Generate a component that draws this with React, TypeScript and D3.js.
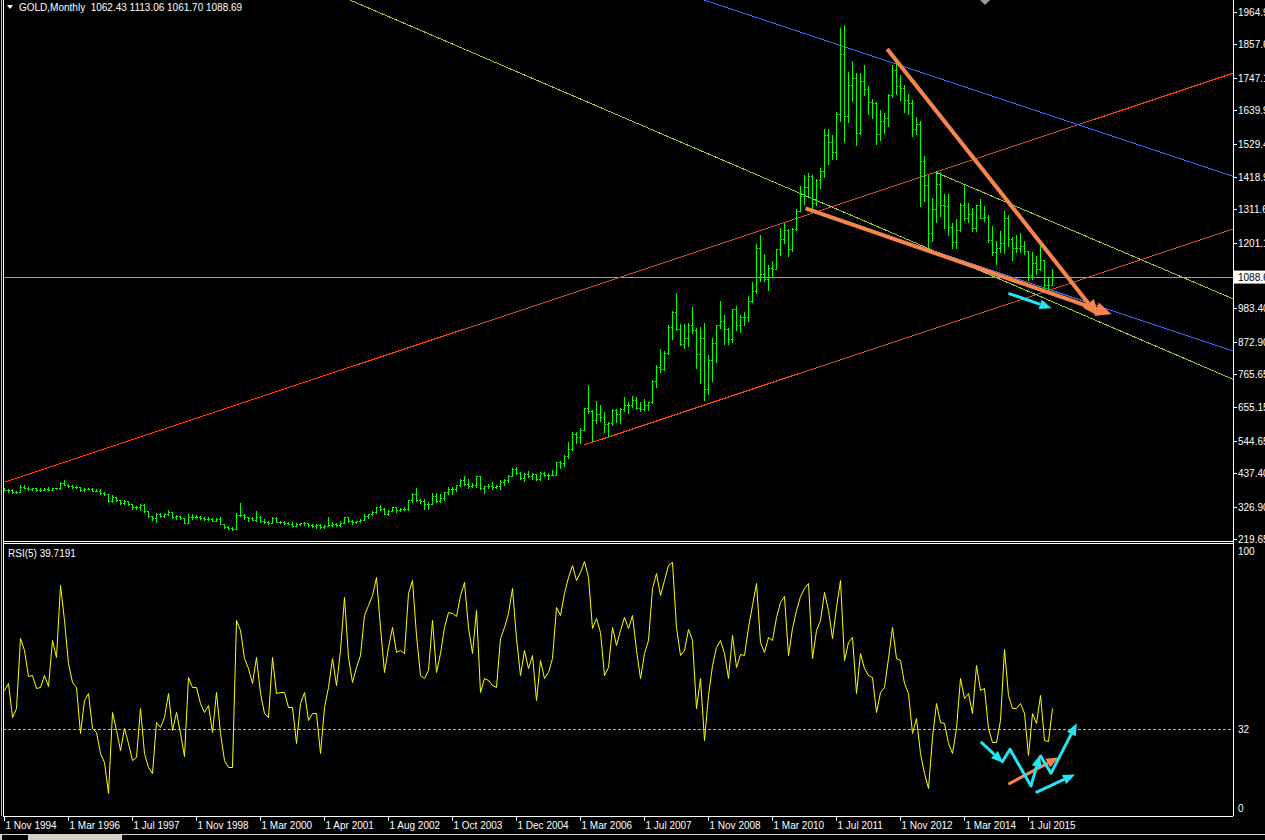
import React from 'react';
import * as d3 from 'd3';

// GOLD monthly, Nov 1994 .. Jan 2016 (broker feed, a few doubled months)
const ohlc: [number, number, number, number][] = [
  [383.5, 389, 381, 383.1], [383.1, 385, 374, 383.3],
  // 1995
  [383.3, 384, 371, 375], [375, 380, 372, 376], [376, 397, 375, 392], [392, 397, 388, 389],
  [389, 393, 382, 385], [385, 390, 382, 387], [387, 389, 380, 383], [383, 388, 380, 382],
  [382, 387, 381, 384], [384, 391, 381, 383], [383, 389, 381, 387], [387, 390, 384, 387],
  // 1996
  [387, 410, 386, 405], [405, 416, 398, 400], [400, 401, 393, 396], [396, 398, 390, 392],
  [392, 395, 389, 391], [391, 392, 380, 382], [382, 388, 380, 385], [385, 390, 384, 386],
  [386, 387, 378, 379], [379, 384, 378, 379], [379, 384, 370, 371], [371, 375, 366, 369],
  // 1997
  [369, 369, 343, 345], [345, 366, 341, 358], [358, 358, 347, 348], [348, 348, 337, 340],
  [340, 350, 337, 345], [345, 347, 333, 334], [334, 335, 318, 326], [326, 330, 320, 325],
  [325, 337, 317, 332], [332, 335, 308, 311], [311, 313, 292, 296], [296, 297, 284, 290],
  // 1998
  [290, 305, 277, 303], [303, 306, 292, 297], [297, 302, 292, 301], [301, 316, 299, 309],
  [309, 310, 290, 293], [293, 298, 287, 296], [296, 297, 286, 288], [288, 289, 271, 273],
  [273, 301, 272, 294], [294, 301, 287, 292], [292, 300, 289, 294], [294, 297, 285, 288],
  // 1999
  [288, 293, 283, 287], [287, 291, 282, 287], [287, 290, 278, 279], [279, 290, 278, 286],
  [286, 292, 268, 268], [268, 268, 257, 261], [261, 262, 252, 255], [255, 258, 251, 254],
  [254, 306, 254, 299], [299, 339, 296, 299], [299, 301, 287, 291], [291, 292, 279, 290],
  // 2000
  [290, 291, 281, 283], [283, 313, 278, 293], [293, 297, 276, 278], [278, 285, 274, 275],
  [275, 279, 269, 272], [272, 292, 272, 288], [288, 291, 275, 276], [276, 280, 271, 277],
  [277, 278, 270, 273], [273, 275, 268, 270], [270, 275, 263, 264], [264, 271, 263, 269],
  [269, 272, 266, 271], [271, 275, 267, 273],
  // 2001
  [273, 274, 262, 265], [265, 268, 261, 263], [263, 268, 255, 267], [267, 269, 256, 258],
  [258, 266, 255, 263], [263, 293, 263, 267], [267, 276, 264, 270], [270, 272, 263, 265],
  [265, 278, 264, 273], [273, 293, 271, 293], [293, 293, 276, 279], [279, 284, 270, 275],
  [275, 280, 271, 279],
  // 2002
  [279, 285, 277, 282], [282, 304, 281, 297], [297, 304, 288, 301], [301, 311, 298, 308],
  [308, 327, 307, 326], [326, 332, 315, 318], [318, 323, 302, 304], [304, 316, 300, 312],
  [312, 326, 311, 324], [324, 325, 310, 317], [317, 321, 313, 319], [319, 326, 315, 318],
  [318, 350, 317, 348],
  // 2003
  [348, 373, 343, 368], [368, 389, 344, 348], [348, 352, 340, 345], [345, 353, 320, 334],
  [334, 341, 320, 337], [337, 373, 336, 361], [361, 372, 342, 346], [346, 368, 342, 354],
  [354, 376, 350, 375], [375, 391, 369, 385], [385, 392, 370, 386], [386, 399, 378, 398],
  [398, 418, 396, 416],
  // 2004
  [416, 427, 398, 402], [402, 418, 390, 396], [396, 405, 392, 400], [400, 428, 392, 427],
  [427, 428, 384, 387], [387, 396, 371, 394], [394, 403, 387, 395], [395, 408, 384, 391],
  [391, 400, 388, 396], [396, 415, 386, 408], [408, 419, 399, 415], [415, 430, 410, 429],
  [429, 456, 428, 453], [453, 457, 434, 438],
  // 2005
  [438, 443, 418, 422], [422, 438, 411, 434], [434, 446, 424, 428], [428, 438, 420, 435],
  [435, 436, 414, 417], [417, 443, 414, 437], [437, 441, 428, 432], [432, 439, 418, 430],
  [430, 448, 430, 433], [433, 476, 433, 473], [473, 478, 456, 470], [470, 499, 460, 495],
  [495, 540, 489, 517],
  // 2006
  [517, 575, 516, 568], [568, 574, 538, 556], [556, 588, 536, 582], [582, 655, 580, 654],
  [654, 730, 637, 643], [643, 647, 543, 613], [613, 678, 605, 632], [632, 662, 610, 623],
  [623, 640, 574, 599], [599, 608, 560, 604], [604, 650, 597, 646], [646, 650, 606, 632],
  // 2007
  [632, 655, 603, 650], [650, 690, 645, 665], [665, 674, 637, 662], [662, 694, 658, 679],
  [679, 690, 650, 655], [655, 672, 642, 650], [650, 683, 648, 665], [665, 675, 648, 673],
  [673, 745, 670, 743], [743, 795, 723, 789], [789, 848, 774, 783], [783, 842, 778, 834],
  // 2008
  [834, 930, 832, 923], [923, 975, 883, 971], [971, 1033, 912, 916], [916, 933, 861, 864],
  [864, 933, 851, 885], [885, 936, 860, 930], [930, 988, 903, 912], [912, 918, 786, 833],
  [833, 922, 736, 884], [884, 935, 681, 718], [718, 828, 700, 814], [814, 885, 742, 869],
  // 2009
  [869, 927, 806, 927], [927, 1007, 917, 942], [942, 962, 866, 916], [916, 918, 865, 883],
  [883, 981, 871, 980], [980, 990, 913, 927], [927, 962, 905, 955], [955, 972, 930, 955],
  [955, 1025, 940, 1008], [1008, 1071, 1004, 1040], [1040, 1195, 1034, 1182], [1182, 1227, 1075, 1096],
  // 2010
  [1096, 1162, 1075, 1081], [1081, 1128, 1045, 1118], [1118, 1139, 1088, 1113], [1113, 1181, 1113, 1180],
  [1180, 1249, 1160, 1213], [1213, 1265, 1199, 1244], [1244, 1245, 1157, 1181], [1181, 1250, 1175, 1247],
  [1247, 1314, 1243, 1307], [1307, 1388, 1307, 1357], [1357, 1424, 1330, 1386], [1386, 1431, 1360, 1421],
  // 2011
  [1421, 1424, 1308, 1332], [1332, 1411, 1325, 1409], [1409, 1447, 1381, 1439], [1439, 1576, 1420, 1556],
  [1556, 1577, 1462, 1536], [1536, 1556, 1478, 1500], [1500, 1633, 1478, 1628], [1628, 1913, 1604, 1825],
  [1825, 1921, 1535, 1620], [1620, 1765, 1602, 1722], [1722, 1803, 1671, 1746], [1746, 1764, 1523, 1564],
  // 2012
  [1564, 1764, 1562, 1738], [1738, 1791, 1689, 1710], [1710, 1720, 1627, 1668], [1668, 1677, 1614, 1664],
  [1664, 1668, 1527, 1561], [1561, 1641, 1541, 1604], [1604, 1630, 1565, 1614], [1614, 1693, 1589, 1691],
  [1691, 1790, 1685, 1773], [1773, 1796, 1692, 1719], [1719, 1755, 1672, 1714], [1714, 1723, 1635, 1675],
  // 2013
  [1675, 1694, 1626, 1663], [1663, 1675, 1555, 1578], [1578, 1617, 1562, 1595], [1595, 1605, 1321, 1472],
  [1472, 1488, 1339, 1393], [1393, 1424, 1180, 1234], [1234, 1348, 1208, 1312], [1312, 1434, 1271, 1396],
  [1396, 1434, 1290, 1327], [1327, 1362, 1251, 1323], [1323, 1361, 1226, 1253], [1253, 1267, 1182, 1202],
  // 2014
  [1202, 1280, 1182, 1244], [1244, 1332, 1238, 1326], [1326, 1392, 1277, 1284], [1284, 1331, 1268, 1296],
  [1296, 1315, 1240, 1250], [1250, 1325, 1240, 1327], [1327, 1345, 1282, 1282], [1282, 1324, 1273, 1287],
  [1287, 1291, 1204, 1210], [1210, 1255, 1160, 1171], [1171, 1208, 1131, 1183], [1183, 1239, 1170, 1199],
  // 2015
  [1199, 1307, 1167, 1283], [1283, 1294, 1191, 1213], [1213, 1220, 1142, 1183], [1183, 1225, 1170, 1183],
  [1183, 1232, 1170, 1190], [1190, 1205, 1163, 1172], [1172, 1175, 1077, 1095], [1095, 1170, 1080, 1134],
  [1134, 1157, 1098, 1115], [1115, 1191, 1112, 1142], [1142, 1142, 1046, 1062], [1062, 1088, 1046, 1061],
  // 2016
  [1062.43, 1113.06, 1061.7, 1088.69],
];

// RSI(5), one value per bar
const rsi: number[] = [
  46.5, 48.9, 36.6, 39.7, 65.7, 61.3, 51.7, 52.0, 47.1, 47.7, 52.0, 48.0, 65.1, 58.9, 85.5, 72.5,
  56.4, 49.6, 47.7, 30.4, 42.8, 45.2, 32.2, 31.0, 22.9, 19.8, 8.1, 38.4, 31.6, 24.2, 32.2, 26.6,
  20.4, 21.7, 39.7, 22.9, 18.0, 15.5, 34.7, 32.8, 36.6, 45.2, 31.6, 38.4, 30.4, 21.9, 51.2, 47.7,
  47.5, 41.5, 38.4, 40.9, 31.0, 45.8, 30.4, 20.4, 18.0, 18.0, 72.5, 68.8, 58.2, 54.5, 48.9, 58.6,
  45.2, 37.8, 36.6, 58.9, 45.2, 45.8, 45.8, 40.3, 40.3, 26.6, 41.5, 45.8, 35.3, 37.8, 37.8, 22.9,
  40.3, 47.7, 58.2, 48.3, 61.3, 81.2, 58.9, 49.6, 55.1, 59.5, 74.3, 78.1, 81.8, 88.6, 70.0, 53.3,
  62.6, 70.0, 60.7, 61.3, 60.1, 82.4, 87.4, 66.9, 52.0, 50.8, 53.9, 72.5, 53.3, 60.1, 70.0, 75.6,
  75.0, 74.0, 81.8, 86.7, 70.0, 60.1, 76.2, 45.8, 50.8, 50.2, 48.3, 47.7, 65.7, 70.0, 75.0, 84.3,
  65.7, 52.0, 61.3, 54.5, 59.5, 42.8, 57.6, 50.8, 53.3, 58.2, 77.4, 74.3, 82.4, 88.6, 92.9, 87.4,
  90.5, 94.5, 88.6, 69.4, 73.1, 68.2, 52.0, 55.1, 70.0, 63.2, 68.8, 73.7, 69.4, 74.3, 61.3, 50.8,
  60.1, 65.1, 84.3, 89.8, 81.8, 87.4, 92.9, 94.2, 70.0, 59.5, 61.3, 69.0, 65.1, 39.7, 50.8, 27.9,
  44.6, 55.8, 62.6, 65.1, 60.1, 50.8, 66.9, 55.1, 59.9, 59.5, 70.0, 78.1, 86.4, 64.4, 60.7, 66.0,
  65.1, 73.7, 79.3, 81.4, 59.5, 69.4, 76.2, 81.4, 84.3, 86.4, 58.2, 68.8, 72.5, 83.0, 76.2, 65.7,
  77.4, 87.4, 57.6, 64.4, 66.3, 45.2, 60.1, 54.5, 52.0, 51.4, 38.4, 45.8, 47.7, 58.2, 69.8, 58.2,
  57.6, 48.9, 45.2, 30.4, 35.9, 22.9, 15.5, 9.9, 29.1, 41.5, 34.7, 34.1, 26.6, 22.9, 32.2, 50.8,
  43.4, 45.2, 37.8, 55.8, 46.5, 47.1, 32.2, 27.3, 27.3, 35.3, 61.6, 44.6, 39.7, 39.7, 41.8, 37.8,
  22.3, 38.0, 34.1, 44.6, 27.9, 27.5, 39.7,
];

const timeLabels = [
  '1 Nov 1994', '1 Mar 1996', '1 Jul 1997', '1 Nov 1998', '1 Mar 2000', '1 Apr 2001',
  '1 Aug 2002', '1 Oct 2003', '1 Dec 2004', '1 Mar 2006', '1 Jul 2007', '1 Nov 2008',
  '1 Mar 2010', '1 Jul 2011', '1 Nov 2012', '1 Mar 2014', '1 Jul 2015',
];
const barsPerLabel = 16;

const priceTicks = [
  1964.9, 1857.65, 1747.15, 1639.9, 1529.4, 1418.9, 1311.65, 1201.15, 1090.65,
  983.4, 872.9, 765.65, 655.15, 544.65, 437.4, 326.9, 219.65,
];

const symbol = 'GOLD,Monthly';
const lastBar = ohlc[ohlc.length - 1];
const rsiPeriod = 5;
const rsiLevel = 32;

// trend lines: [barIndex, price] anchors
const redChannel: [number, number][][] = [
  [[0.25, 408.4], [307.25, 1762.2]],
  [[145.1, 530.9], [307.25, 1246.3]],
];
const greenChannel: [number, number][][] = [
  [[86.5, 2004.6], [307.25, 748.5]],
  [[233.2, 1432.7], [307.25, 1015.1]],
];
const blueChannel: [number, number][][] = [
  [[175, 2004.6], [307.25, 1420.4]],
  [[231, 1180], [307.25, 842.2]],
];
// hand drawn arrows on the price window
const orangePriceArrows: [number, number][][] = [
  [[220.8, 1842.4], [273.6, 958.2]],
  [[200.4, 1314.8], [276.9, 963.8]],
];
const cyanPriceArrows: [number, number][][] = [
  [[251.1, 1033.3], [261.9, 983.6]],
];
// hand drawn arrows on the RSI window: [barIndex, rsi]
const orangeRsiArrows: [number, number][][] = [
  [[251.1, 11.5], [263.6, 21.4]],
];
const cyanRsiArrows: [number, number][][] = [
  [[244.2, 27.2], [249.8, 19.4]],
  [[249.4, 19.4], [251.5, 24.4], [256.75, 10.8], [259, 22.3]],
  [[259, 22.3], [261.75, 15.5], [268.2, 34.1]],
  [[257.9, 8.3], [267.75, 15.1]],
];

const W = 1265;
const H = 840;
const left = 3;
const right = 1233;
const mainBottom = 541;
const rsiTop = 544;
const rsiBottom = 816;

const FONT = '"Liberation Sans", Arial, sans-serif';
const ORANGE = '#f8854e';
const CYAN = '#22e6f5';

function arrowShape(pts: [number, number][], head: number, half: number) {
  const n = pts.length;
  const [x1, y1] = pts[n - 2];
  const [x2, y2] = pts[n - 1];
  const len = Math.hypot(x2 - x1, y2 - y1) || 1;
  const ux = (x2 - x1) / len;
  const uy = (y2 - y1) / len;
  const bx = x2 - ux * head;
  const by = y2 - uy * head;
  const shaft = d3.line()([...pts.slice(0, -1), [bx, by]]) as string;
  const tri = [
    [x2, y2],
    [bx - uy * half, by + ux * half],
    [bx + uy * half, by - ux * half],
  ].map((p) => p.join(',')).join(' ');
  return { shaft, tri };
}

export default function App() {
  const x = d3.scaleLinear().domain([0, 1]).range([4, 8]);
  const y = d3.scaleLinear().domain([219.65, 1964.9]).range([539, 12]);
  const yr = d3.scaleLinear().domain([0, 100]).range([815, 546]);

  const toP = (seg: [number, number][]) => seg.map(([i, v]) => [x(i), y(v)] as [number, number]);
  const toR = (seg: [number, number][]) => seg.map(([i, v]) => [x(i), yr(v)] as [number, number]);

  const rsiPath = d3.line<number>()
    .x((_, i) => Math.round(x(i)) + 0.5)
    .y((d) => Math.round(yr(d)) + 0.5)(rsi) as string;

  const lastY = y(lastBar[3]);

  const drawArrow = (pts: [number, number][], color: string, w: number, head: number, half: number, k: string) => {
    const a = arrowShape(pts, head, half);
    return (
      <g key={k}>
        <path d={a.shaft} fill="none" stroke={color} strokeWidth={w} strokeLinejoin="round" />
        <polygon points={a.tri} fill={color} />
      </g>
    );
  };

  const trend = (segs: [number, number][][], color: string, k: string) =>
    segs.map((s, i) => {
      const [[ax, ay], [bx, by]] = toP(s);
      return <line key={k + i} x1={ax} y1={ay} x2={bx} y2={by} stroke={color} strokeWidth={1} shapeRendering="crispEdges" />;
    });

  return (
    <svg
      width={W}
      height={H}
      viewBox={`0 0 ${W} ${H}`}
      style={{ position: 'fixed', left: 0, top: 0, background: '#000', fontFamily: FONT }}
    >
      <defs>
        <clipPath id="mainClip"><rect x={left + 1} y={0} width={right - left - 1} height={mainBottom} /></clipPath>
        <clipPath id="rsiClip"><rect x={left + 1} y={rsiTop + 1} width={right - left - 1} height={rsiBottom - rsiTop - 1} /></clipPath>
      </defs>
      <rect x={0} y={0} width={W} height={H} fill="#000" />

      {/* main window */}
      <g clipPath="url(#mainClip)">
        <line x1={left} x2={right} y1={Math.round(lastY) + 0.5} y2={Math.round(lastY) + 0.5} stroke="#8e9db0" shapeRendering="crispEdges" />
        {trend(redChannel, '#ff4500', 'r')}
        {trend(greenChannel, '#9acd32', 'g')}
        {trend(blueChannel, '#4169e1', 'b')}
        <g fill="#00ff00" shapeRendering="crispEdges">
          {ohlc.map(([o, h, l, c], i) => {
            const bx = Math.round(x(i));
            const yh = Math.round(y(h));
            const yl = Math.round(y(l));
            return (
              <g key={i}>
                <rect x={bx} y={yh} width={1} height={Math.max(1, yl - yh + 1)} />
                <rect x={bx - 1} y={Math.round(y(o))} width={1} height={1} />
                <rect x={bx + 1} y={Math.round(y(c))} width={1} height={1} />
              </g>
            );
          })}
        </g>
        {orangePriceArrows.map((s, i) => drawArrow(toP(s), ORANGE, 4, 16, 7, 'op' + i))}
        {cyanPriceArrows.map((s, i) => drawArrow(toP(s), CYAN, 3, 12, 5, 'cp' + i))}
      </g>

      {/* title */}
      <polygon points="7,5 13,5 10,9" fill="#fff" />
      <text x={19} y={11} fill="#fff" fontSize={10} xmlSpace="preserve">
        {`${symbol}  ${lastBar.map((v) => v.toFixed(2)).join(' ')}`}
      </text>
      <polygon points="980,0 990,0 985,5" fill="#9a9a9a" />

      {/* price axis */}
      <g fontSize={10} fill="#fff">
        {priceTicks.map((p) => (
          <g key={p}>
            <line x1={right} x2={right + 4} y1={Math.round(y(p)) + 0.5} y2={Math.round(y(p)) + 0.5} stroke="#fff" shapeRendering="crispEdges" />
            <text x={right + 5} y={y(p) + 4}>{p.toFixed(2)}</text>
          </g>
        ))}
        <rect x={right + 1} y={lastY - 6} width={W - right} height={13} fill="#fff" />
        <text x={right + 5} y={lastY + 4} fill="#000">{lastBar[3].toFixed(2)}</text>
      </g>

      {/* RSI window */}
      <g clipPath="url(#rsiClip)">
        <line x1={left} x2={right} y1={Math.round(yr(rsiLevel)) + 0.5} y2={Math.round(yr(rsiLevel)) + 0.5} stroke="#b4b4b4" strokeDasharray="3,2" shapeRendering="crispEdges" />
        <path d={rsiPath} fill="none" stroke="#ffff00" strokeWidth={1} />
        {orangeRsiArrows.map((s, i) => drawArrow(toR(s), ORANGE, 3, 12, 5, 'or' + i))}
        {cyanRsiArrows.map((s, i) => drawArrow(toR(s), CYAN, 3, 12, 5, 'cr' + i))}
      </g>
      <text x={8} y={557} fill="#fff" fontSize={10}>{`RSI(${rsiPeriod}) ${rsi.length ? '39.7191' : ''}`}</text>
      <g fontSize={10} fill="#fff">
        <text x={right + 5} y={yr(100) + 9}>100</text>
        <text x={right + 5} y={yr(rsiLevel) + 4}>{rsiLevel}</text>
        <text x={right + 5} y={yr(0) - 3}>0</text>
      </g>

      {/* frame */}
      <g stroke="#fff" shapeRendering="crispEdges">
        <line x1={1.5} x2={1.5} y1={0} y2={rsiBottom} stroke="#bdbdbd" />
        <line x1={left + 0.5} x2={left + 0.5} y1={0} y2={rsiBottom} />
        <line x1={right + 0.5} x2={right + 0.5} y1={0} y2={rsiBottom} />
        <line x1={left} x2={right} y1={mainBottom + 0.5} y2={mainBottom + 0.5} />
        <line x1={left} x2={right} y1={rsiTop - 0.5} y2={rsiTop - 0.5} />
        <line x1={left} x2={right} y1={rsiBottom + 0.5} y2={rsiBottom + 0.5} />
      </g>

      {/* time axis */}
      <g fontSize={10} fill="#fff">
        {timeLabels.map((t, k) => {
          const tx = Math.round(x(k * barsPerLabel)) + 0.5;
          return (
            <g key={t}>
              <line x1={tx} x2={tx} y1={rsiBottom} y2={rsiBottom + 5} stroke="#fff" shapeRendering="crispEdges" />
              <text x={tx + 1} y={829}>{t}</text>
            </g>
          );
        })}
      </g>
      <rect x={0} y={834} width={W} height={6} fill="#d4d0c8" />
      <rect x={2} y={835} width={26} height={5} fill="#000" />
      <rect x={122} y={835} width={W - 122} height={5} fill="#000" />
    </svg>
  );
}
